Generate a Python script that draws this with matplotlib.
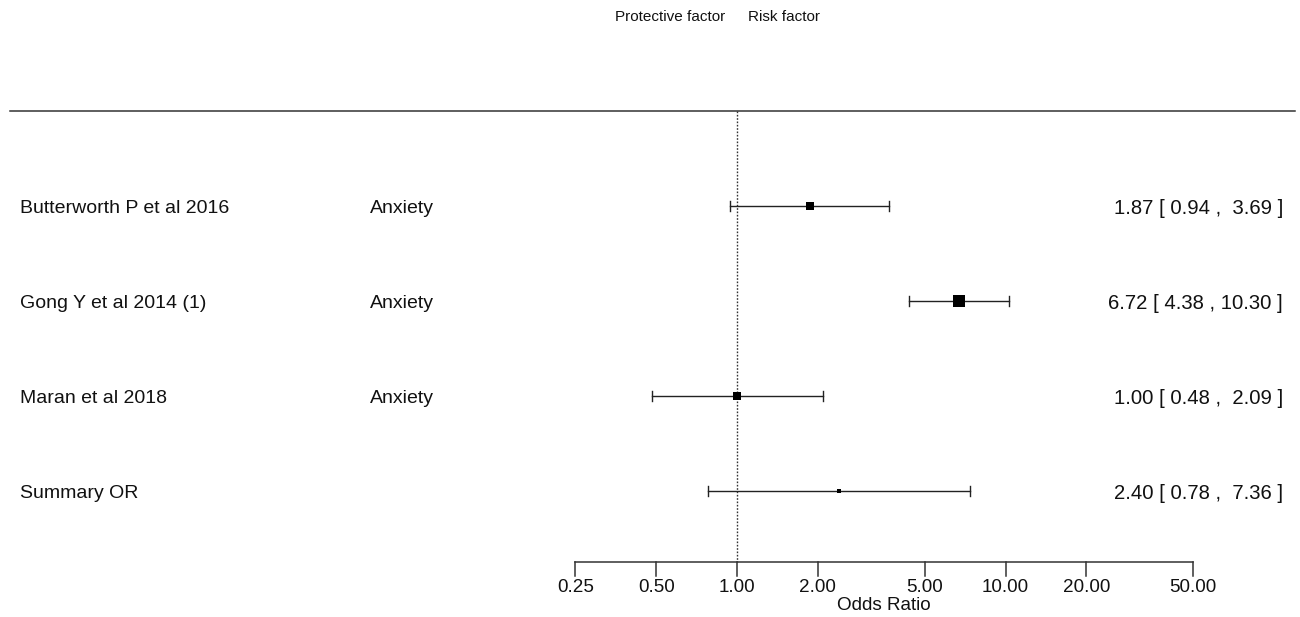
import numpy as np
import matplotlib
matplotlib.use("Agg")
import matplotlib.pyplot as plt

plt.rcParams['font.family'] = ['Liberation Sans', 'DejaVu Sans']

studies = ["Butterworth P et al 2016", "Gong Y et al 2014 (1)", "Maran et al 2018", "Summary OR"]
outcomes = ["Anxiety", "Anxiety", "Anxiety", ""]
odds_ratio = [1.87, 6.72, 1.00, 2.40]
ci_low = [0.94, 4.38, 0.48, 0.78]
ci_high = [3.69, 10.30, 2.09, 7.36]
box_size = [5.2, 8.8, 5.2, 2.2]
tick_values = [0.25, 0.50, 1.00, 2.00, 5.00, 10.00, 20.00, 50.00]

W, H = 1300, 617
fig = plt.figure(figsize=(W / 100, H / 100), dpi=100)
ax = fig.add_axes([0, 0, 1, 1])
ax.set_xscale('log', base=2)

# pixel geometry of the log axis
px_per_doubling = 80.8
x_quarter = 575.5
ax.set_xlim(2 ** (-2 - x_quarter / px_per_doubling), 2 ** (-2 + (W - x_quarter) / px_per_doubling))
row0, row_gap = 206.0, 95.0
ax.set_ylim((H - row0) / row_gap, -row0 / row_gap)
ax.axis('off')

def px_to_y(p):
    return (p - row0) / row_gap

def px_to_x(p):
    return 2 ** (-2 + (p - x_quarter) / px_per_doubling)

ink = "black"
txt = "#111111"
rows = np.arange(len(studies))

# header rule
ax.plot([px_to_x(10), px_to_x(1295)], [px_to_y(111)] * 2, color="#333333", lw=1.1)

# reference line at OR = 1
ax.plot([1.0, 1.0], [px_to_y(111), px_to_y(562)], color="#333333", lw=1.0, ls=(0, (1.2, 1.2)))

for i in rows:
    ax.plot([ci_low[i], ci_high[i]], [i, i], color="#222222", lw=1.0)
    for v in (ci_low[i], ci_high[i]):
        ax.plot([v, v], [i - 5 / row_gap, i + 5 / row_gap], color="#222222", lw=1.0)
    ax.plot(odds_ratio[i], i, marker='s', ms=box_size[i], color=ink, mec=ink, mew=0)
    ty = px_to_y(row0 + row_gap * i + 2)
    ax.text(px_to_x(20), ty, studies[i], fontsize=14, va='center', ha='left', color=txt)
    ax.text(px_to_x(370), ty, outcomes[i], fontsize=14, va='center', ha='left', color=txt)
    ax.text(px_to_x(1283), ty,
            f"{odds_ratio[i]:.2f} [ {ci_low[i]:.2f} , {ci_high[i]:5.2f} ]",
            fontsize=14.6, va='center', ha='right', color=txt)

# bottom axis
y_axis = px_to_y(562)
ax.plot([tick_values[0], tick_values[-1]], [y_axis, y_axis], color="#333333", lw=1.1)
for t in tick_values:
    ax.plot([t, t], [y_axis, px_to_y(576)], color="#333333", lw=1.1)
    ax.text(t, px_to_y(588), f"{t:.2f}", fontsize=13.6, ha='center', va='center', color=txt)
mid = np.sqrt(tick_values[0] * tick_values[-1])
ax.text(mid, px_to_y(606), "Odds Ratio", fontsize=13.6, ha='center', va='center', color=txt)

# direction labels
ax.text(px_to_x(725), px_to_y(17), "Protective factor", fontsize=11, ha='right', va='center', color=txt)
ax.text(px_to_x(748), px_to_y(17), "Risk factor", fontsize=11, ha='left', va='center', color=txt)

fig.savefig("out.png", dpi=100, facecolor="white")
